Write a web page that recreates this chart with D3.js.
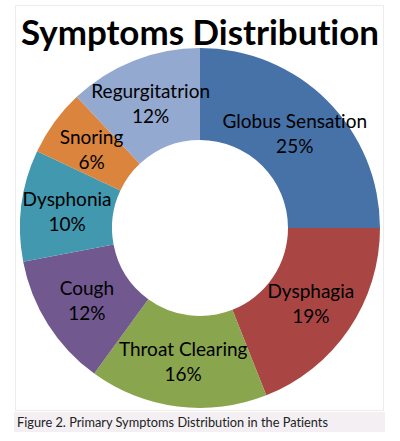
<!DOCTYPE html>
<html><head><meta charset="utf-8">
<script src="https://cdn.jsdelivr.net/npm/d3@7/dist/d3.min.js"></script>
<style>body{margin:0;background:#fff;}svg{display:block;}text{font-variant-ligatures:none;}</style>
</head><body>
<svg id="c" width="400" height="441"></svg>
<script>
const categories = ["Globus Sensation","Dysphagia","Throat Clearing","Cough","Dysphonia","Snoring","Regurgitatrion"];
const values = [25,19,16,12,10,6,12];
const colors = ["#4672A8","#A94644","#89A54E","#71588F","#4198AF","#DB843D","#93A9CF"];
const title = "Symptoms Distribution";
const caption = "Figure 2. Primary Symptoms Distribution in the Patients";

const svg = d3.select("#c");
// frame
svg.append("rect").attr("x",15.5).attr("y",5.5).attr("width",368).attr("height",405)
  .attr("fill","#fff").attr("stroke","#ececec");
// caption bar
svg.append("rect").attr("x",14).attr("y",412).attr("width",371).attr("height",20).attr("fill","#f3eff3");
svg.append("text").attr("x",17).attr("y",426.5).attr("font-family","Lato, 'Noto Sans', sans-serif")
  .attr("font-size",12.5).attr("fill","#222")
  .attr("textLength",311).attr("lengthAdjust","spacingAndGlyphs").text(caption);

svg.append("text").attr("x",200).attr("y",45).attr("text-anchor","middle")
  .attr("font-family","Lato, 'Open Sans', sans-serif").attr("font-weight","bold")
  .attr("font-size",35).attr("fill","#000")
  .attr("textLength",358).attr("lengthAdjust","spacingAndGlyphs").text(title);

const cx=200, cy=228, R=180, r=88;
const data = categories.map((c,i)=>({name:c,value:values[i],color:colors[i]}));
const pie = d3.pie().value(d=>d.value).sort(null);
const arc = d3.arc().innerRadius(r).outerRadius(R);
const g = svg.append("g").attr("transform",`translate(${cx},${cy})`);
const arcs = pie(data);
g.selectAll("path").data(arcs).join("path").attr("d",arc).attr("fill",d=>d.data.color);
const lab = g.selectAll("text").data(arcs).join("text")
  .attr("transform",d=>`translate(${arc.centroid(d)})`)
  .attr("text-anchor","middle").attr("font-family","Lato, 'Open Sans', sans-serif")
  .attr("font-size",19).attr("fill","#000");
lab.append("tspan").attr("x",0).attr("y",-5).text(d=>d.data.name);
lab.append("tspan").attr("x",0).attr("y",20).text(d=>d.data.value+"%");
</script>
</body></html>
